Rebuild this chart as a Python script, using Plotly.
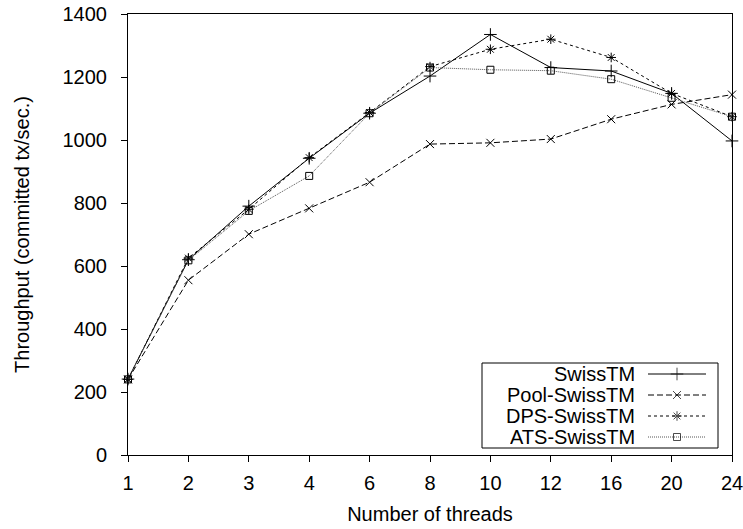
import plotly.graph_objects as go

threads = ["1", "2", "3", "4", "6", "8", "10", "12", "16", "20", "24"]
swisstm = [241, 620, 790, 942, 1085, 1203, 1335, 1230, 1219, 1148, 997]
pool_swisstm = [240, 555, 701, 783, 866, 987, 991, 1003, 1066, 1113, 1144]
dps_swisstm = [240, 625, 780, 944, 1087, 1233, 1288, 1320, 1262, 1148, 1074]
ats_swisstm = [240, 618, 775, 886, 1085, 1230, 1223, 1220, 1193, 1134, 1074]

names = ["SwissTM", "Pool-SwissTM", "DPS-SwissTM", "ATS-SwissTM"]
series = [swisstm, pool_swisstm, dps_swisstm, ats_swisstm]
styles = [
    dict(color="black", dash="solid", symbol="cross-thin", size=9),
    dict(color="black", dash="6px,3px", symbol="x-thin", size=8),
    dict(color="black", dash="3px,3px", symbol="asterisk", size=8),
    dict(color="#555555", dash="1px,1px", symbol="square-open", size=7),
]

W, H = 743, 529
L, R, T, B = 128, 11, 14, 74
FONT = "Liberation Sans, Arial, sans-serif"

fig = go.Figure()
for n, s, st in zip(names, series, styles):
    fig.add_trace(go.Scatter(
        x=threads, y=s, name=n, mode="lines+markers",
        line=dict(color=st["color"], width=1, dash=st["dash"]),
        marker=dict(symbol=st["symbol"], size=st["size"], color="black",
                    line=dict(color="black", width=1)),
        showlegend=False, cliponaxis=False,
    ))

# custom gnuplot-style legend (text first, sample on the right)
leg_x0, leg_x1 = 482, 718
leg_y0, leg_y1 = 363, 448
row_y = [374, 395, 416, 437]
for n, st, yc in zip(names, styles, row_y):
    fig.add_trace(go.Scatter(
        x=[648, 677, 706], y=[yc, yc, yc], mode="lines+markers",
        xaxis="x2", yaxis="y2", showlegend=False, hoverinfo="skip",
        line=dict(color=st["color"], width=1, dash=st["dash"]),
        marker=dict(symbol=st["symbol"], size=[0, st["size"], 0], color="black",
                    line=dict(color="black", width=1)),
    ))
    fig.add_annotation(x=636, y=yc, xref="x2", yref="y2", text=n,
                       showarrow=False, xanchor="right", yanchor="middle",
                       height=20, valign="middle", borderpad=0,
                       font=dict(size=20, color="black", family=FONT))
fig.add_shape(type="rect", x0=leg_x0, x1=leg_x1, y0=leg_y0, y1=leg_y1,
              xref="x2", yref="y2", line=dict(color="black", width=1),
              fillcolor="white", layer="below")

fig.update_layout(
    width=W, height=H,
    margin=dict(l=L, r=R, t=T, b=B, autoexpand=False),
    plot_bgcolor="rgba(0,0,0,0)", paper_bgcolor="white",
    font=dict(family=FONT, size=20, color="black"),
    xaxis=dict(
        type="category", range=[0, 10], showgrid=False, zeroline=False,
        showline=True, linecolor="black", linewidth=1, mirror=True,
        ticks="outside", ticklen=6, tickcolor="black", automargin=False,
        tickfont=dict(size=20), ticklabelstandoff=4,
        title=dict(text="Number of threads", standoff=13, font=dict(size=20)),
    ),
    yaxis=dict(
        range=[0, 1400], dtick=200, showgrid=False, zeroline=False,
        showline=True, linecolor="black", linewidth=1, mirror=True,
        ticks="outside", ticklen=6, tickcolor="black", automargin=False,
        tickfont=dict(size=20), ticklabelstandoff=10,
        title=dict(text="Throughput (committed tx/sec.)", standoff=27, font=dict(size=20)),
    ),
    xaxis2=dict(domain=[0, 1], range=[L, W - R], visible=False,
                fixedrange=True, anchor="y2", automargin=False),
    yaxis2=dict(domain=[0, 1], range=[H - B, T], visible=False,
                fixedrange=True, anchor="x2", automargin=False),
)

fig.write_html("out.html")
